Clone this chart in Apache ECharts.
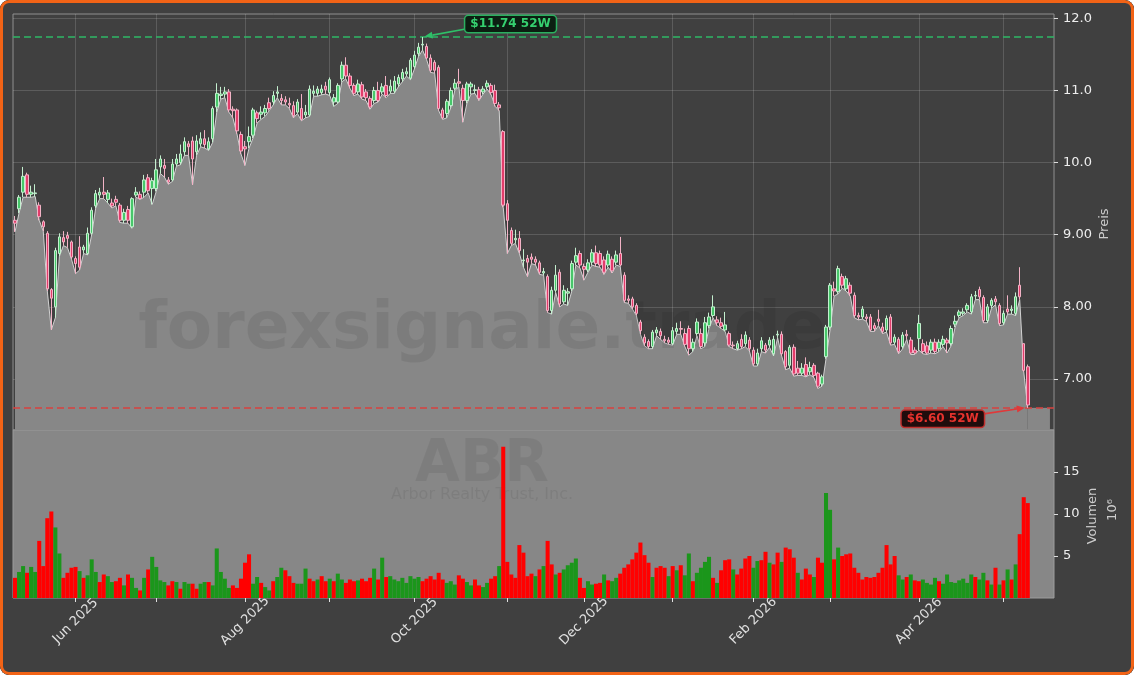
<!DOCTYPE html>
<html><head><meta charset="utf-8">
<script src="https://cdn.jsdelivr.net/npm/echarts@6/dist/echarts.min.js"></script>
<style>
html,body{margin:0;padding:0;background:#ffffff;}
#wrap{position:relative;width:1134px;height:675px;border-radius:9px;overflow:hidden;background:#404040;}
#chart{position:absolute;left:0;top:0;width:1134px;height:675px;}
#frame{position:absolute;left:0;top:0;width:1134px;height:675px;box-sizing:border-box;border:3px solid #f26316;border-radius:9px;pointer-events:none;}
</style></head><body>
<div id="wrap"><div id="chart"></div><div id="frame"></div></div>
<script>
const priceOpen = [
9.20,9.36,9.59,9.83,9.56,9.57,9.41,9.18,9.02,8.24,
8.00,8.74,8.96,8.99,8.90,8.67,8.83,8.79,8.74,9.02,
9.40,9.55,9.59,9.49,9.44,9.49,9.41,9.20,9.35,9.11,
9.55,9.56,9.59,9.79,9.64,9.64,9.94,9.96,9.76,9.76,
9.98,10.00,10.15,10.26,10.30,10.15,10.26,10.33,10.19,10.33,
10.77,10.93,10.95,10.98,10.74,10.73,10.39,10.22,10.29,10.38,
10.69,10.67,10.69,10.83,10.84,10.96,10.89,10.87,10.82,10.79,
10.70,10.75,10.66,10.66,10.96,10.96,10.97,11.06,10.97,10.84,
10.84,11.16,11.35,11.20,11.07,10.98,11.08,10.98,10.89,10.86,
11.00,10.98,11.07,10.99,10.99,11.09,11.16,11.23,11.17,11.33,
11.51,11.63,11.61,11.45,11.39,11.32,10.73,10.68,10.79,11.03,
11.12,11.03,10.86,11.05,11.00,11.01,10.98,11.05,11.07,11.00,
10.80,10.43,9.43,9.06,8.93,8.95,8.64,8.67,8.69,8.66,
8.61,8.47,8.42,7.95,8.23,8.48,8.07,8.19,8.25,8.62,
8.74,8.56,8.51,8.62,8.75,8.74,8.65,8.58,8.66,8.62,
8.74,8.44,8.11,8.11,8.02,7.79,7.58,7.52,7.45,7.64,
7.66,7.55,7.54,7.49,7.66,7.70,7.63,7.70,7.42,7.63,
7.63,7.50,7.74,7.88,7.82,7.78,7.68,7.63,7.47,7.42,
7.55,7.49,7.54,7.40,7.21,7.42,7.47,7.47,7.35,7.61,
7.62,7.38,7.19,7.44,7.15,7.08,7.20,7.10,7.19,7.08,
6.93,7.31,7.72,8.25,8.21,8.42,8.25,8.30,8.16,7.88,
7.86,7.86,7.86,7.74,7.83,7.72,7.68,7.86,7.51,7.55,
7.45,7.62,7.54,7.40,7.56,7.49,7.46,7.40,7.51,7.42,
7.48,7.54,7.49,7.76,7.88,7.91,7.96,7.93,8.15,8.24,
8.13,7.81,8.02,8.11,8.02,7.78,7.97,7.95,7.91,8.30,
7.49,7.17];
const priceClose = [
9.16,9.52,9.81,9.56,9.59,9.58,9.25,9.11,8.25,8.12,
8.78,8.97,8.90,8.95,8.69,8.60,8.55,8.83,9.02,9.34,
9.57,9.59,9.56,9.58,9.40,9.45,9.20,9.31,9.20,9.50,
9.59,9.50,9.76,9.61,9.75,9.90,10.05,9.92,9.73,9.98,
10.05,10.12,10.29,10.22,10.05,10.30,10.33,10.25,10.29,10.75,
10.96,10.95,10.98,10.73,10.72,10.44,10.16,10.19,10.36,10.73,
10.61,10.70,10.75,10.75,10.93,10.98,10.86,10.84,10.80,10.65,
10.84,10.60,10.70,11.02,10.99,11.02,11.02,11.01,11.15,10.90,
11.07,11.35,11.20,11.07,10.96,11.09,10.91,10.90,10.77,11.00,
10.86,11.05,10.93,11.06,11.13,11.18,11.25,11.26,11.42,11.49,
11.60,11.64,11.45,11.28,11.28,10.75,10.62,10.85,11.00,11.10,
11.10,10.86,11.09,11.09,11.01,10.89,11.02,11.10,10.97,10.82,
10.76,9.41,9.20,8.88,8.95,8.78,8.65,8.62,8.66,8.62,
8.48,8.49,7.95,8.23,8.44,8.04,8.23,8.21,8.60,8.71,
8.58,8.52,8.61,8.75,8.60,8.58,8.48,8.73,8.50,8.72,
8.58,8.09,8.09,8.00,7.91,7.67,7.50,7.45,7.65,7.68,
7.60,7.53,7.51,7.67,7.70,7.69,7.48,7.42,7.51,7.79,
7.45,7.78,7.86,8.00,7.78,7.73,7.75,7.47,7.46,7.49,
7.45,7.61,7.42,7.21,7.36,7.53,7.40,7.54,7.55,7.62,
7.35,7.17,7.44,7.07,7.08,7.15,7.05,7.16,7.05,6.90,
7.03,7.72,8.30,8.22,8.53,8.30,8.39,8.19,7.88,7.86,
7.97,7.84,7.68,7.70,7.80,7.66,7.84,7.50,7.58,7.38,
7.61,7.60,7.36,7.36,7.77,7.38,7.36,7.51,7.38,7.51,
7.55,7.50,7.70,7.80,7.93,7.93,8.02,8.14,8.16,8.14,
7.81,8.00,8.09,8.07,7.77,7.91,7.93,7.97,8.14,8.14,
7.12,6.64];
const priceHigh = [
9.26,9.55,9.94,9.86,9.68,9.70,9.45,9.20,9.05,8.26,
8.82,9.02,9.05,9.04,8.92,8.70,8.98,8.86,9.10,9.38,
9.62,9.65,9.80,9.62,9.50,9.54,9.44,9.36,9.40,9.52,
9.66,9.60,9.83,9.84,9.79,10.05,10.10,10.05,9.80,10.05,
10.12,10.25,10.35,10.30,10.36,10.38,10.42,10.45,10.35,10.78,
11.10,11.05,11.05,11.02,10.78,10.75,10.43,10.30,10.50,10.76,
10.72,10.78,10.80,10.90,10.99,11.06,10.95,10.92,10.90,10.85,
10.88,10.95,10.80,11.07,11.07,11.06,11.08,11.12,11.18,10.95,
11.10,11.40,11.46,11.24,11.10,11.15,11.12,11.02,10.92,11.05,
11.12,11.10,11.20,11.15,11.20,11.22,11.30,11.32,11.45,11.55,
11.66,11.74,11.65,11.50,11.42,11.35,10.76,10.88,11.04,11.16,
11.30,11.08,11.12,11.12,11.08,11.05,11.06,11.14,11.10,11.08,
10.84,10.45,9.48,9.10,9.07,9.05,8.80,8.72,8.74,8.70,
8.64,8.54,8.45,8.28,8.58,8.52,8.30,8.26,8.64,8.82,
8.78,8.60,8.66,8.80,8.85,8.78,8.70,8.78,8.70,8.78,
8.97,8.48,8.16,8.14,8.05,7.82,7.62,7.55,7.68,7.72,
7.70,7.60,7.58,7.72,7.78,7.80,7.70,7.74,7.56,7.84,
7.70,7.86,7.92,8.16,7.87,7.85,7.93,7.66,7.52,7.53,
7.62,7.66,7.58,7.44,7.42,7.58,7.50,7.58,7.60,7.67,
7.66,7.40,7.47,7.48,7.25,7.22,7.30,7.24,7.22,7.10,
7.06,7.75,8.33,8.35,8.57,8.46,8.43,8.34,8.20,7.92,
8.01,7.90,7.90,7.78,7.96,7.78,7.88,7.90,7.62,7.58,
7.65,7.68,7.58,7.44,7.89,7.55,7.52,7.55,7.56,7.55,
7.60,7.57,7.74,7.88,7.96,7.98,8.05,8.18,8.22,8.28,
8.16,8.04,8.12,8.15,8.05,7.95,8.16,8.02,8.20,8.55,
7.49,7.20];
const priceLow = [
9.04,9.30,9.52,9.52,9.52,9.53,9.20,9.05,8.22,7.68,
7.85,8.70,8.85,8.82,8.66,8.46,8.51,8.74,8.72,9.00,
9.37,9.50,9.50,9.44,9.37,9.40,9.17,9.16,9.16,9.09,
9.52,9.49,9.52,9.58,9.42,9.60,9.85,9.80,9.70,9.74,
9.95,9.97,10.10,10.10,9.69,10.10,10.22,10.20,10.17,10.28,
10.70,10.88,10.90,10.70,10.62,10.40,10.12,9.96,10.20,10.34,
10.55,10.60,10.64,10.72,10.80,10.90,10.80,10.80,10.75,10.62,
10.68,10.58,10.62,10.64,10.92,10.92,10.94,10.95,10.93,10.78,
10.82,11.12,11.16,11.03,10.93,10.95,10.88,10.86,10.74,10.82,
10.84,10.95,10.90,10.96,10.96,11.05,11.12,11.20,11.15,11.30,
11.47,11.56,11.43,11.25,11.24,10.72,10.60,10.62,10.76,11.00,
11.05,10.56,10.82,10.95,10.96,10.86,10.95,11.02,10.94,10.78,
10.72,9.38,8.74,8.85,8.88,8.74,8.55,8.42,8.60,8.58,
8.45,8.44,7.92,7.90,8.20,8.00,8.04,8.02,8.22,8.58,
8.54,8.37,8.48,8.58,8.56,8.55,8.45,8.55,8.47,8.58,
8.56,8.06,8.05,7.97,7.88,7.62,7.46,7.42,7.42,7.60,
7.55,7.50,7.48,7.47,7.62,7.62,7.45,7.33,7.38,7.60,
7.42,7.45,7.70,7.85,7.74,7.70,7.66,7.45,7.42,7.40,
7.42,7.45,7.39,7.18,7.18,7.38,7.36,7.44,7.32,7.57,
7.32,7.13,7.15,7.04,7.05,7.05,7.03,7.06,7.02,6.87,
6.90,7.28,7.68,8.15,8.18,8.26,8.22,8.15,7.85,7.82,
7.83,7.80,7.66,7.66,7.74,7.63,7.65,7.47,7.48,7.35,
7.42,7.55,7.34,7.34,7.40,7.35,7.34,7.36,7.35,7.38,
7.45,7.36,7.46,7.72,7.85,7.88,7.93,7.90,8.10,8.10,
7.78,7.78,7.98,8.03,7.74,7.75,7.90,7.90,7.88,8.10,
7.10,6.60];
const volumeMillions = [
2.4,3.1,3.8,3.0,3.7,3.1,6.8,3.8,9.5,10.3,
8.4,5.3,2.4,3.0,3.6,3.7,3.2,2.4,2.7,4.6,
3.1,1.9,2.8,2.6,1.9,2.0,2.4,1.5,2.8,2.4,
1.2,0.9,2.4,3.4,4.9,3.7,2.1,1.9,1.5,2.0,
1.9,1.1,1.9,1.7,1.7,1.1,1.7,1.9,1.9,1.5,
5.9,3.1,2.3,1.2,1.5,1.2,2.3,4.2,5.2,1.7,
2.5,1.8,1.3,0.9,2.0,2.5,3.6,3.3,2.6,1.8,
1.7,1.7,3.5,2.3,2.0,2.2,2.6,2.0,2.3,2.0,
2.9,2.2,1.8,2.2,2.0,2.1,2.3,2.0,2.4,3.5,
2.2,4.8,2.5,2.6,2.2,2.0,2.4,1.8,2.6,2.3,
2.5,2.0,2.3,2.6,2.2,3.0,2.2,1.8,2.0,1.6,
2.7,2.3,1.9,1.5,2.2,1.5,1.3,1.8,2.3,2.6,
3.8,18.0,4.3,2.8,2.4,6.3,5.4,2.6,2.9,2.6,
3.4,3.8,6.8,4.0,2.8,3.0,3.4,3.9,4.2,4.7,
2.4,1.2,2.0,1.6,1.7,1.8,2.8,2.1,2.0,2.4,
2.9,3.6,4.0,4.6,5.4,6.6,5.1,4.2,2.5,3.6,
3.8,3.6,2.6,3.8,3.3,3.9,2.7,5.3,2.0,3.0,
3.6,4.3,4.9,2.4,1.8,3.3,4.5,4.6,3.4,2.8,
3.5,4.7,5.0,3.6,4.4,4.5,5.5,4.2,4.0,5.4,
4.3,6.0,5.8,4.8,3.0,2.2,3.5,2.8,2.5,4.8,
4.2,12.5,10.5,4.6,6.0,5.0,5.2,5.3,3.6,3.0,
2.2,2.5,2.4,2.5,3.0,3.6,6.3,4.0,5.0,2.7,
2.2,2.5,2.8,2.1,2.0,2.2,1.8,1.6,2.4,2.0,
1.7,2.8,1.9,1.8,2.1,2.3,1.8,2.8,2.5,2.2,
3.0,2.1,1.6,3.6,1.6,2.1,3.4,2.2,4.0,7.6,
12.0,11.3];
const volumeDirection = [
'duuduudddd','uudddduduu','udduuddudu','ududuuuudd','uduudduudu',
'uuuudddddu','uduuduuddd','uuudduddud','uudddudddu','duduuuuuuu',
'udddddduuu','dduudduudd','uddddddddu','dudduduuuu','dduudduduu',
'ddddddddud','ddududuudu','uuududddud','ddduuddudd','udddudddud',
'duududdddd','dddddddddu','ududduuuud','uuuuuuuudu','ududududud',
'dd'].join('').split('');
const priceTicks = [7, 8, 9, 10, 11, 12];
const volumeTicks = [5, 10, 15];
const firstTradingDay = '2025-05-09';
const marketHolidays = ['2025-05-26','2025-06-19','2025-07-04','2025-09-01','2025-11-27','2025-12-25','2026-01-01','2026-01-19','2026-02-16','2026-04-03'];
const paddingSlots = 6;
const monthNames = ['Jan','Feb','Mar','Apr','May','Jun','Jul','Aug','Sep','Oct','Nov','Dec'];
const symbolName = 'ABR';
const companyName = 'Arbor Realty Trust, Inc.';
const watermarkText = 'forexsignale.trade';

function buildDates(n){
  const out=[]; const d=new Date(firstTradingDay+'T00:00:00Z');
  while(out.length<n){
    const s=d.toISOString().slice(0,10); const wd=d.getUTCDay();
    if(wd!==0&&wd!==6&&marketHolidays.indexOf(s)<0) out.push(s);
    d.setUTCDate(d.getUTCDate()+1);
  }
  return out;
}
const dates = buildDates(priceClose.length);
const categories = dates.concat(Array.from({length:paddingSlots},(_,i)=>'pad'+i));
function isMonthStart(i){ return i>0 && i<dates.length && dates[i].slice(0,7)!==dates[i-1].slice(0,7); }
function showMonthLabel(i){ return isMonthStart(i) && (+dates[i].slice(5,7))%2===0; }
function fmtDate(v){ if(!v||v.indexOf('pad')===0) return ''; return monthNames[+v.slice(5,7)-1]+' '+v.slice(0,4); }

const candles = dates.map((_,i)=>[priceOpen[i],priceClose[i],priceLow[i],priceHigh[i]]);
const volData = volumeMillions.map((v,i)=>({value:v,itemStyle:{color:volumeDirection[i]==='u'?'#1b961b':'#ff0000'}}));
const maxHigh = Math.max.apply(null, priceHigh), idxHigh = priceHigh.indexOf(maxHigh);
const minLow = Math.min.apply(null, priceLow), idxLow = priceLow.indexOf(minLow);

const FONT='DejaVu Sans';
const chart = echarts.init(document.getElementById('chart'), null, {renderer:'canvas'});
const option = {
  animation:false,
  backgroundColor:'#404040',
  textStyle:{fontFamily:FONT},
  grid:[
    {left:13,top:14,width:1041,height:416,show:true,backgroundColor:'#404040',borderColor:'#8f8f8f',borderWidth:1},
    {left:13,top:430,width:1041,height:168,show:true,backgroundColor:'#878787',borderColor:'#9c9c9c',borderWidth:1}
  ],
  xAxis:[
    {type:'category',gridIndex:0,data:categories,boundaryGap:true,
     axisLine:{show:false},axisTick:{show:false},axisLabel:{show:false},
     splitLine:{show:true,alignWithLabel:true,interval:(i)=>isMonthStart(i),lineStyle:{color:'rgba(255,255,255,0.15)',width:1}}},
    {type:'category',gridIndex:1,data:categories,boundaryGap:true,
     axisLine:{show:false},
     axisTick:{show:true,alignWithLabel:true,interval:(i)=>isMonthStart(i),length:4,lineStyle:{color:'#e0e0e0'}},
     axisLabel:{show:true,interval:(i)=>showMonthLabel(i),formatter:fmtDate,rotate:45,align:'center',verticalAlign:'middle',margin:23,color:'#e0e0e0',fontSize:13,fontFamily:FONT,hideOverlap:false},
     splitLine:{show:false}}
  ],
  yAxis:[
    {type:'value',gridIndex:0,position:'right',min:6.293,max:12.06,scale:true,
     axisLine:{show:false},
     axisTick:{show:true,customValues:priceTicks,length:4,lineStyle:{color:'#dddddd'}},
     axisLabel:{customValues:priceTicks,formatter:(v)=>v>=10?v.toFixed(1):v.toFixed(2),color:'#eeeeee',fontSize:13,margin:9,fontFamily:FONT},
     splitLine:{show:true,lineStyle:{color:'rgba(255,255,255,0.15)',width:1}}},
    {type:'value',gridIndex:1,position:'right',min:0,max:20,
     axisLine:{show:false},
     axisTick:{show:true,customValues:volumeTicks,length:4,lineStyle:{color:'#dddddd'}},
     axisLabel:{customValues:volumeTicks,color:'#eeeeee',fontSize:13,margin:9,fontFamily:FONT},
     splitLine:{show:false}}
  ],
  series:[
    {type:'line',name:'Low',xAxisIndex:0,yAxisIndex:0,data:priceLow,symbol:'none',silent:true,z:2,
     lineStyle:{color:'#d2d2d2',width:1},areaStyle:{color:'#878787',opacity:1,origin:'start'},
     markLine:{silent:true,symbol:'none',label:{show:false},animation:false,
       data:[{yAxis:maxHigh,lineStyle:{color:'#2eb865',type:[7,4],width:1.5}},
             {yAxis:minLow,lineStyle:{color:'#d9413f',type:[7,4],width:1.5}}]}},
    {type:'candlestick',name:'ABR',xAxisIndex:0,yAxisIndex:0,data:candles,barWidth:3,z:5,silent:true,
     itemStyle:{color:'#47c76a',color0:'#e23d6b',borderColor:'#c4efcf',borderColor0:'#f2b3c6',borderWidth:1}},
    {type:'bar',name:'Volumen',xAxisIndex:1,yAxisIndex:1,data:volData,barCategoryGap:'0%',barWidth:'100%',z:3,silent:true}
  ]
};
chart.setOption(option);

function arrow(x1,y1,x2,y2,color){
  const dx=x2-x1, dy=y2-y1, L=Math.hypot(dx,dy), ux=dx/L, uy=dy/L, px=-uy, py=ux, hl=8, hw=3.5;
  const bx=x2-ux*hl, by=y2-uy*hl;
  return [
    {type:'line',z:20,silent:true,shape:{x1:x1,y1:y1,x2:bx,y2:by},style:{stroke:color,lineWidth:1.6}},
    {type:'polygon',z:20,silent:true,shape:{points:[[x2,y2],[bx+px*hw,by+py*hw],[bx-px*hw,by-py*hw]]},style:{fill:color}}
  ];
}
const pH = chart.convertToPixel({xAxisIndex:0,yAxisIndex:0},[idxHigh,maxHigh]);
const pL = chart.convertToPixel({xAxisIndex:0,yAxisIndex:0},[idxLow,minLow]);
const pEnd = chart.convertToPixel({xAxisIndex:0,yAxisIndex:0},[dates.length-1+5,minLow]);
const pBottom = chart.convertToPixel({xAxisIndex:0,yAxisIndex:0},[0,6.293]);
const graphics = [
  {type:'rect',z:2,silent:true,shape:{x:pL[0],y:pL[1],width:pEnd[0]-pL[0]+2,height:pBottom[1]-pL[1]},style:{fill:'#878787'}},
  {type:'text',z:3,silent:true,x:482,y:331,style:{text:watermarkText,font:'bold 66px "'+FONT+'"',fill:'rgba(0,0,0,0.08)',align:'center',verticalAlign:'middle'}},
  {type:'text',z:1,silent:true,x:482,y:466,style:{text:symbolName,font:'bold 58px "'+FONT+'"',fill:'rgba(0,0,0,0.07)',align:'center',verticalAlign:'middle'}},
  {type:'text',z:1,silent:true,x:482,y:495,style:{text:companyName,font:'16px "'+FONT+'"',fill:'rgba(0,0,0,0.07)',align:'center',verticalAlign:'middle'}},
  {type:'text',z:10,silent:true,x:1105,y:224,rotation:Math.PI/2,style:{text:'Preis',font:'13px "'+FONT+'"',fill:'#cccccc',align:'center',verticalAlign:'middle'}},
  {type:'text',z:10,silent:true,x:1093,y:516,rotation:Math.PI/2,style:{text:'Volumen',font:'13px "'+FONT+'"',fill:'#cccccc',align:'center',verticalAlign:'middle'}},
  {type:'text',z:10,silent:true,x:1113,y:510,rotation:Math.PI/2,style:{text:'10\u2076',font:'13px "'+FONT+'"',fill:'#cccccc',align:'center',verticalAlign:'middle'}},
  ...arrow(pH[0]+43,pH[1]-8,pH[0]+2,pH[1]-0.5,'#2fc068'),
  {type:'text',z:21,silent:true,x:pH[0]+88,y:pH[1]-13,style:{text:'$'+maxHigh.toFixed(2)+' 52W',font:'bold 12px "'+FONT+'"',fill:'#35d06f',align:'center',verticalAlign:'middle',backgroundColor:'#0c1f12',borderColor:'#2bb060',borderWidth:1.5,borderRadius:3,padding:[2,5]}},
  ...arrow(pL[0]-44,pL[1]+6,pL[0]-3,pL[1],'#e0393a'),
  {type:'text',z:21,silent:true,x:pL[0]-85,y:pL[1]+11,style:{text:'$'+minLow.toFixed(2)+' 52W',font:'bold 12px "'+FONT+'"',fill:'#e5322d',align:'center',verticalAlign:'middle',backgroundColor:'#200c0c',borderColor:'#c0302e',borderWidth:1.5,borderRadius:3,padding:[2,5]}}
];
chart.setOption({graphic:graphics});
</script></body></html>
